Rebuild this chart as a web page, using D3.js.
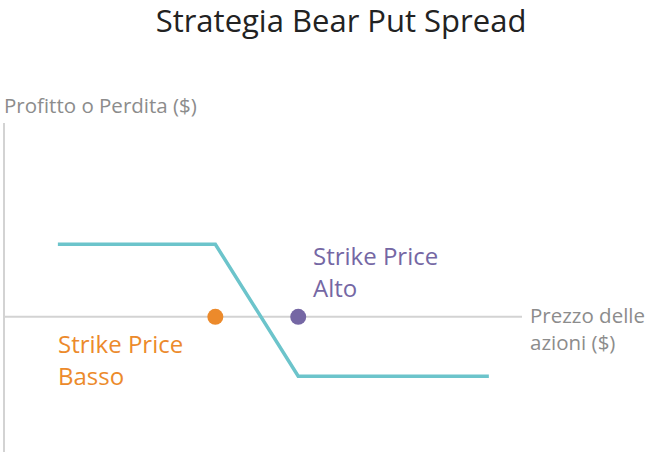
<!DOCTYPE html>
<html>
<head>
<meta charset="utf-8">
<script src="https://cdn.jsdelivr.net/npm/d3@7"></script>
<style>
  body { margin: 0; background: #fff; }
  text { font-family: "Open Sans", "Noto Sans", sans-serif; }
</style>
</head>
<body>
<div id="chart"></div>
<script>
// Payoff of a bear put spread (abstract price / profit units)
const payoffPrices = [26, 45, 55, 78];
const payoffValues = [5.5, 5.5, -4.5, -4.5];

const strikeNames = ['Basso', 'Alto'];
const strikePrices = [45, 55];
const strikeColors = ['#ec8a2b', '#7567a4'];

const title = 'Strategia Bear Put Spread';
const yLabel = 'Profitto o Perdita ($)';
const xLabel = ['Prezzo delle', 'azioni ($)'];

const width = 666, height = 474;

const svg = d3.select('#chart')
    .append('svg')
    .attr('width', width)
    .attr('height', height);

const x = d3.scaleLinear().domain([19.5, 82]).range([4, 522]);
const y = d3.scaleLinear().domain([-10.25, 14.7]).range([452, 123]);

// Title
svg.append('text')
    .attr('x', 341)
    .attr('y', 32)
    .attr('text-anchor', 'middle')
    .attr('fill', '#222')
    .style('font-size', '31px')
    .text(title);

// Axes (plain lines, no ticks)
svg.append('line')
    .attr('x1', x(19.5)).attr('x2', x(19.5))
    .attr('y1', y(14.7)).attr('y2', y(-10.25))
    .attr('stroke', '#d3d3d3')
    .attr('stroke-width', 2);

svg.append('line')
    .attr('x1', x(19.5)).attr('x2', x(82))
    .attr('y1', y(0)).attr('y2', y(0))
    .attr('stroke', '#d3d3d3')
    .attr('stroke-width', 2);

svg.append('text')
    .attr('x', 4)
    .attr('y', 113)
    .attr('fill', '#8c8c8c')
    .style('font-size', '20.5px')
    .text(yLabel);

svg.append('text')
    .attr('x', 530)
    .attr('fill', '#8c8c8c')
    .style('font-size', '20.5px')
    .selectAll('tspan')
    .data(xLabel)
    .enter()
    .append('tspan')
    .attr('x', 530)
    .attr('y', (d, i) => 323 + i * 27)
    .text(d => d);

// Payoff line
const line = d3.line()
    .x((d, i) => x(payoffPrices[i]))
    .y(d => y(d));

svg.append('path')
    .datum(payoffValues)
    .attr('d', line)
    .attr('fill', 'none')
    .attr('stroke', '#6cc4cb')
    .attr('stroke-width', 3.5);

// Strike points
svg.selectAll('.strike')
    .data(strikePrices)
    .enter()
    .append('circle')
    .attr('class', 'strike')
    .attr('cx', d => x(d))
    .attr('cy', y(0))
    .attr('r', 8)
    .attr('fill', (d, i) => strikeColors[i]);

// Strike labels
const labelPos = [{ x: 58, y: 353 }, { x: 313, y: 265 }];
strikeNames.forEach((name, i) => {
    const t = svg.append('text')
        .attr('fill', strikeColors[i])
        .style('font-size', '24px');
    ['Strike Price', name].forEach((s, j) => {
        t.append('tspan')
            .attr('x', labelPos[i].x)
            .attr('y', labelPos[i].y + j * 32)
            .text(s);
    });
});
</script>
</body>
</html>
